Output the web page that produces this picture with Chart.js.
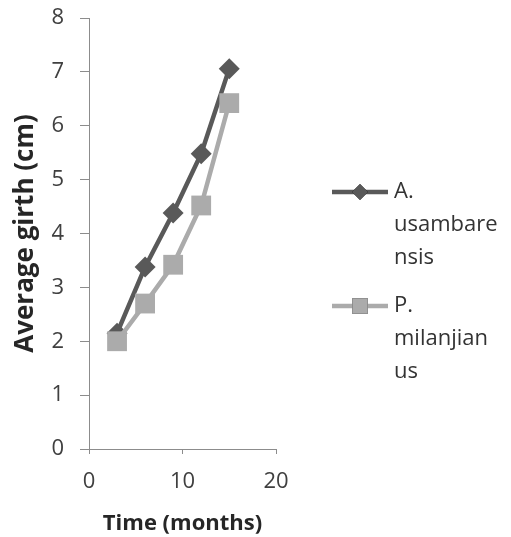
<!DOCTYPE html>
<html>
<head>
<meta charset="utf-8">
<script src="https://cdn.jsdelivr.net/npm/chart.js@4"></script>
<style>
  html, body { margin: 0; padding: 0; background: #ffffff; }
  #wrap { width: 511px; height: 537px; position: relative; }
</style>
</head>
<body>
<div id="wrap"><canvas id="c" width="511" height="537"></canvas></div>
<script>
// ---- data ----
const months = [3, 6, 9, 12, 15];
const usambarensis = [2.15, 3.38, 4.38, 5.48, 7.06];
const milanjianus = [2.0, 2.7, 3.42, 4.52, 6.42];
const seriesNames = ["A. usambarensis", "P. milanjianus"];
const legendLines = [["A.", "usambare", "nsis"], ["P.", "milanjian", "us"]];
const xTitle = "Time (months)";
const yTitle = "Average girth (cm)";

const FONT = "'Open Sans', 'DejaVu Sans', sans-serif";
const darkCol = "#595959";
const lightCol = "#ababab";
const axisCol = "#8c8c8c";

const legendPlugin = {
  id: 'wrappedLegend',
  afterDraw(chart) {
    const ctx = chart.ctx;
    const x0 = chart.chartArea.right + 56;
    const lineLen = 56;
    const lineGap = 33;
    const startYs = [192, 306];
    chart.data.datasets.forEach((ds, i) => {
      const y = startYs[i];
      ctx.save();
      ctx.strokeStyle = ds.borderColor;
      ctx.lineWidth = ds.borderWidth;
      ctx.beginPath();
      ctx.moveTo(x0, y);
      ctx.lineTo(x0 + lineLen, y);
      ctx.stroke();
      Chart.helpers.drawPoint(ctx, {
        pointStyle: ds.pointStyle,
        radius: ds.legendRadius,
        borderWidth: 0
      }, x0 + lineLen / 2, y);
      ctx.fillStyle = ds.pointBackgroundColor;
      ctx.fill();
      ctx.fillStyle = '#333333';
      ctx.font = "22px " + FONT;
      ctx.textBaseline = 'middle';
      ctx.textAlign = 'left';
      legendLines[i].forEach((t, k) => {
        ctx.fillText(t, x0 + lineLen + 6, y + k * lineGap);
      });
      ctx.restore();
    });
  }
};

new Chart(document.getElementById('c'), {
  type: 'line',
  data: {
    datasets: [
      {
        label: seriesNames[0],
        data: months.map((m, i) => ({ x: m, y: usambarensis[i] })),
        borderColor: darkCol,
        backgroundColor: darkCol,
        pointBackgroundColor: darkCol,
        pointBorderColor: darkCol,
        borderWidth: 4.5,
        pointStyle: 'rectRot',
        pointRadius: 10.5,
        pointHoverRadius: 10.5,
        pointBorderWidth: 0,
        legendRadius: 8,
        tension: 0,
        order: 1
      },
      {
        label: seriesNames[1],
        data: months.map((m, i) => ({ x: m, y: milanjianus[i] })),
        borderColor: lightCol,
        backgroundColor: lightCol,
        pointBackgroundColor: lightCol,
        pointBorderColor: lightCol,
        borderWidth: 4.5,
        pointStyle: 'rect',
        pointRadius: 14,
        pointHoverRadius: 14,
        pointBorderWidth: 0,
        legendRadius: 11,
        tension: 0,
        order: 0
      }
    ]
  },
  plugins: [legendPlugin],
  options: {
    responsive: false,
    animation: false,
    events: [],
    layout: { padding: { top: 18, right: 235, left: 0, bottom: 0 } },
    plugins: {
      legend: { display: false },
      tooltip: { enabled: false }
    },
    scales: {
      x: {
        type: 'linear',
        min: 0, max: 20,
        ticks: { stepSize: 10, color: '#404040', font: { family: FONT, size: 22 }, padding: 15, maxRotation: 0 },
        grid: { drawOnChartArea: false, drawTicks: true, tickLength: 5, color: axisCol, lineWidth: 1 },
        border: { display: true, color: axisCol, width: 1 },
        title: { display: true, text: xTitle, color: '#262626', font: { family: FONT, size: 22, weight: 'bold' }, padding: { top: 0, bottom: 0 } },
        afterFit(scale) { scale.height = 88; }
      },
      y: {
        type: 'linear',
        min: 0, max: 8,
        ticks: { stepSize: 1, color: '#404040', font: { family: FONT, size: 22 }, padding: 16 },
        grid: { drawOnChartArea: false, drawTicks: true, tickLength: 9, color: axisCol, lineWidth: 1 },
        border: { display: true, color: axisCol, width: 1 },
        title: { display: true, text: yTitle, color: '#262626', font: { family: FONT, size: 26, weight: 'bold' }, padding: { top: 10, bottom: 0 } },
        afterFit(scale) { scale.width = 89; scale.paddingTop = 0; scale.paddingBottom = 0; }
      }
    }
  }
});
</script>
</body>
</html>
